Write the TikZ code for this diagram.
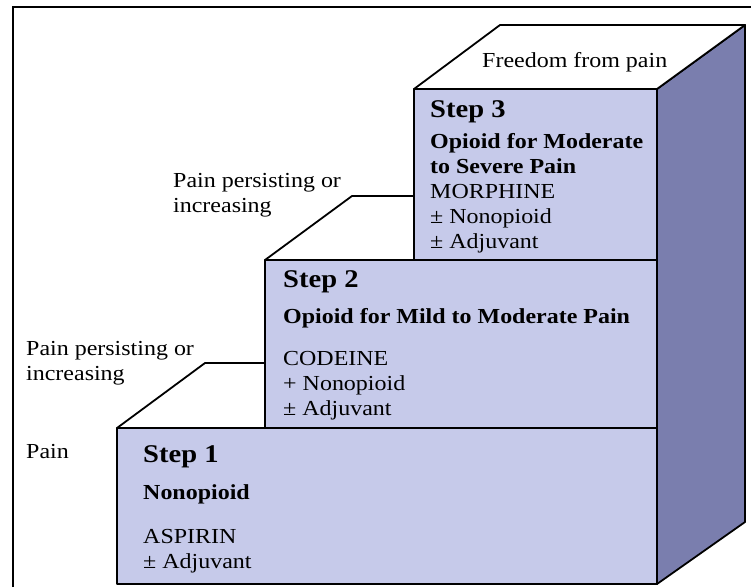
\documentclass[tikz,border=0pt]{standalone}
\usepackage{fontspec}
\setmainfont{Liberation Serif}[FakeStretch=1.12]
\definecolor{frontc}{RGB}{198,202,234}
\definecolor{sidec}{RGB}{122,126,174}
\newcommand{\blocklines}[1]{\begin{tabular}[t]{@{}l@{}}#1\end{tabular}}
\tikzset{
  lbl/.style={anchor=base west, inner sep=0pt, font=\fontsize{21.4}{25}\selectfont},
  head/.style={anchor=base west, inner sep=0pt, font=\fontsize{25.5}{28}\selectfont\bfseries},
  facefront/.style={fill=frontc, draw=black, line width=1.8pt, line join=round},
  faceside/.style={fill=sidec, draw=black, line width=1.8pt, line join=round},
  facetop/.style={fill=white, draw=black, line width=1.8pt, line join=round},
  framestyle/.style={draw=black, line width=2pt}
}
\begin{document}
\begin{tikzpicture}[x=1pt,y=-1pt]
\useasboundingbox (0,0) rectangle (751,587);
% frame (open at right and bottom)
\draw[framestyle] (13,587) -- (13,7) -- (751,7);

% key points
\coordinate (s3tl) at (414,89);
\coordinate (s3tr) at (657,89);
\coordinate (s3bl) at (414,260);
\coordinate (s2tl) at (265,260);
\coordinate (s2bl) at (265,428);
\coordinate (s1tl) at (117,428);
\coordinate (s1bl) at (117,584);
\coordinate (s1br) at (657,584);
\coordinate (backtl) at (500,25);
\coordinate (backtr) at (745,25);
\coordinate (backbr) at (745,522);
\coordinate (s2back) at (352,196);
\coordinate (s2backr) at (414,196);
\coordinate (s1back) at (205,363);
\coordinate (s1backr) at (265,363);

% side face
\path[faceside] (s3tr) -- (backtr) -- (backbr) -- (s1br) -- cycle;
% top faces
\path[facetop] (s3tl) -- (backtl) -- (backtr) -- (s3tr) -- cycle;
\path[facetop] (s2tl) -- (s2back) -- (s2backr) -- (s3bl) -- cycle;
\path[facetop] (s1tl) -- (s1back) -- (s1backr) -- (s2bl) -- cycle;
% front faces
\path[facefront] (s3tl) rectangle (657,260);
\path[facefront] (s2tl) rectangle (657,428);
\path[facefront] (s1tl) rectangle (s1br);

% texts
\node[lbl] (free) at (482,67) {Freedom from pain};

\node[head] (h3) at (430,117) {Step 3};
\node[lbl] (t3) at (430,148) {\blocklines{\textbf{Opioid for Moderate}\\\textbf{to Severe Pain}\\MORPHINE\\± Nonopioid\\± Adjuvant}};

\node[head] (h2) at (283,287) {Step 2};
\node[lbl] (t2) at (283,323) {\blocklines{\textbf{Opioid for Mild to Moderate Pain}\\[17pt]CODEINE\\+ Nonopioid\\± Adjuvant}};

\node[head] (h1) at (143,462) {Step 1};
\node[lbl] (t1) at (143,499) {\blocklines{\textbf{Nonopioid}\\[19pt]ASPIRIN\\± Adjuvant}};

\node[lbl] (ppi2) at (173,187) {\blocklines{Pain persisting or\\increasing}};
\node[lbl] (ppi1) at (26,355) {\blocklines{Pain persisting or\\increasing}};
\node[lbl] (pain) at (26,458) {Pain};
\end{tikzpicture}
\end{document}
